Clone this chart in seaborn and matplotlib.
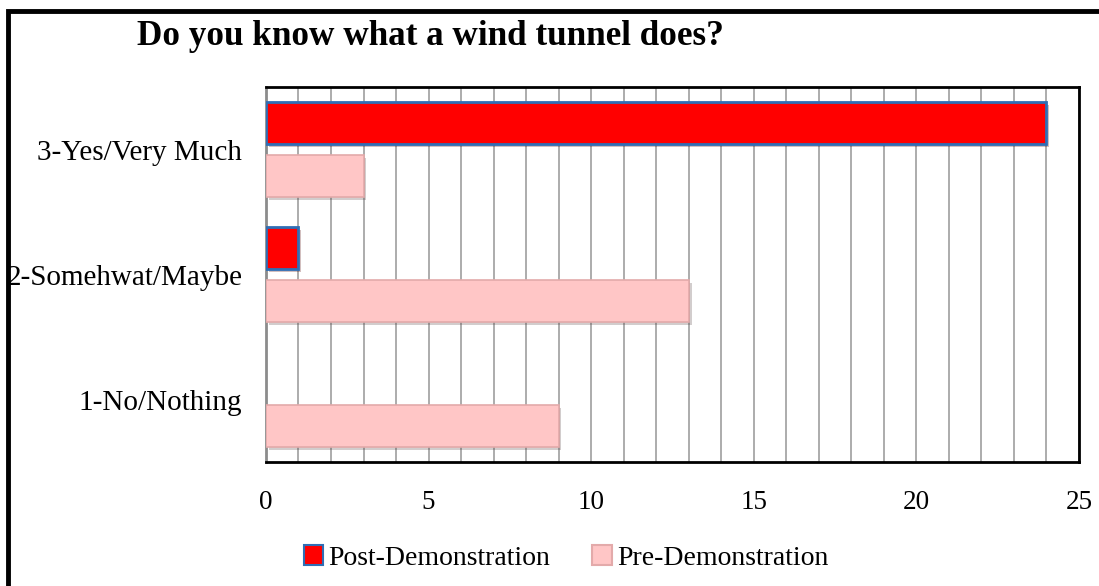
import matplotlib
matplotlib.use("Agg")
import matplotlib.pyplot as plt
import matplotlib.patheffects as pe
from matplotlib.patches import Rectangle, Patch
from matplotlib.ticker import MultipleLocator
import pandas as pd
import seaborn as sns

categories = ["3-Yes/Very Much", "2-Somehwat/Maybe", "1-No/Nothing"]
post_demo = [24, 1, 0]
pre_demo = [3, 13, 9]
series = ["Post-Demonstration", "Pre-Demonstration"]

df = pd.DataFrame({
    "response": categories * 2,
    "count": post_demo + pre_demo,
    "group": [series[0]] * 3 + [series[1]] * 3,
})

sns.set_theme(style="white")
plt.rcParams["font.family"] = ["Liberation Serif", "DejaVu Serif"]
plt.rcParams["text.color"] = "black"

fig = plt.figure(figsize=(10.99, 5.86), dpi=100)
ax = fig.add_axes([0.242, 0.2116, 0.7398, 0.6399])

face = {series[0]: "#ff0000", series[1]: "#ffc6c6"}
edge = {series[0]: "#2f6eb5", series[1]: "#e3aaaa"}

sns.barplot(data=df, y="response", x="count", hue="group",
            order=categories, hue_order=series, palette=face, saturation=1,
            width=0.84, gap=0.2, orient="h", legend=False, ax=ax, zorder=3)

for bars, name in zip(ax.containers, series):
    for bar in bars:
        if bar.get_width() == 0:
            bar.set_visible(False)
            continue
        bar.set_edgecolor(edge[name])
        bar.set_linewidth(2.0 if name == series[0] else 1.2)
        bar.set_path_effects([pe.SimplePatchShadow(offset=(2, -2), alpha=0.25),
                              pe.Normal()])

ax.set_xlim(0, 25)
ax.xaxis.set_major_locator(MultipleLocator(5))
ax.xaxis.set_minor_locator(MultipleLocator(1))
ax.grid(True, axis="x", which="both", color="#a6a6a6", linewidth=1.3, zorder=0)
ax.set_axisbelow(True)
ax.set_xlabel("")
ax.set_ylabel("")
ax.tick_params(axis="both", which="both", length=0, colors="black")
ax.tick_params(axis="x", labelsize=19.5, pad=20)
ax.tick_params(axis="y", labelsize=21, pad=17)

for side in ["top", "right", "bottom"]:
    ax.spines[side].set_color("black")
    ax.spines[side].set_linewidth(2)
ax.spines["left"].set_color("#8c8c8c")
ax.spines["left"].set_linewidth(2)

fig.text(0.125, 0.938, "Do you know what a wind tunnel does?", fontsize=25.3,
         fontweight="bold", ha="left", va="center")

handles = [Patch(facecolor=face[s], edgecolor=edge[s], linewidth=1.5) for s in series]
fig.legend(handles, series, loc="center", bbox_to_anchor=(0.515, 0.048), ncol=2,
           frameon=False, fontsize=20, handlelength=0.7, handleheight=0.7,
           handletextpad=0.2, columnspacing=1.5)

# Frame along the left and top edges
fig.patches.append(Rectangle((0.0073, -0.05), 1.05, 1.0316, transform=fig.transFigure,
                             fill=False, edgecolor="black", linewidth=3.5))

fig.savefig("out.png", dpi=100)
